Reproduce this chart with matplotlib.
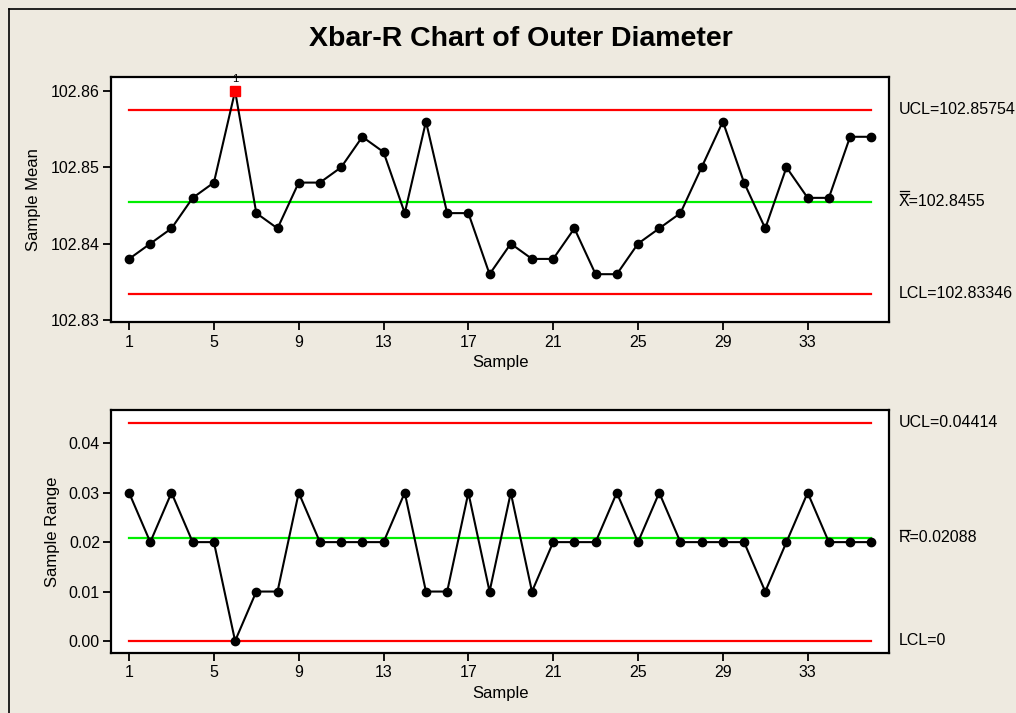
import matplotlib
matplotlib.use("Agg")
import matplotlib.pyplot as plt
from matplotlib.lines import Line2D
import numpy as np

# Subgroup statistics for 36 samples of outer diameter
samples = list(range(1, 37))
sample_means = [102.838, 102.840, 102.842, 102.846, 102.848, 102.860, 102.844, 102.842,
                102.848, 102.848, 102.850, 102.854, 102.852, 102.844, 102.856, 102.844,
                102.844, 102.836, 102.840, 102.838, 102.838, 102.842, 102.836, 102.836,
                102.840, 102.842, 102.844, 102.850, 102.856, 102.848, 102.842, 102.850,
                102.846, 102.846, 102.854, 102.854]
sample_ranges = [0.03, 0.02, 0.03, 0.02, 0.02, 0.00, 0.01, 0.01, 0.03, 0.02, 0.02, 0.02,
                 0.02, 0.03, 0.01, 0.01, 0.03, 0.01, 0.03, 0.01, 0.02, 0.02, 0.02, 0.03,
                 0.02, 0.03, 0.02, 0.02, 0.02, 0.02, 0.01, 0.02, 0.03, 0.02, 0.02, 0.02]

xbar_ucl, xbar_center, xbar_lcl = 102.85754, 102.8455, 102.83346
r_ucl, r_center, r_lcl = 0.04414, 0.02088, 0.0

x_ticks = [1, 5, 9, 13, 17, 21, 25, 29, 33]
mean_ticks = [102.83, 102.84, 102.85, 102.86]
range_ticks = [0.00, 0.01, 0.02, 0.03, 0.04]

# samples flagged by test 1 (beyond the control limits)
flagged = [6]

plt.rcParams["font.family"] = ["Liberation Sans", "DejaVu Sans"]

BG = "#EEEAE0"
RED = "#FF0000"
GREEN = "#00EE00"

fig = plt.figure(figsize=(10.16, 7.13), dpi=100, facecolor=BG)

ax1 = fig.add_axes([0.1093, 0.5480, 0.7660, 0.3444])
ax2 = fig.add_axes([0.1093, 0.0846, 0.7660, 0.3404])


def style_axes(ax, yticks, ylim, ylabel, ypad, xpad):
    ax.set_facecolor("white")
    ax.set_xlim(0.15, 36.85)
    ax.set_ylim(*ylim)
    ax.set_xticks(x_ticks)
    ax.set_yticks(yticks)
    ax.set_yticklabels([f"{t:.2f}" for t in yticks])
    for s in ax.spines.values():
        s.set_linewidth(1.6)
        s.set_color("black")
    ax.tick_params(axis="both", direction="out", length=6, width=1.3,
                   labelsize=11.5, colors="black", pad=2)
    ax.tick_params(axis="x", pad=3)
    ax.set_xlabel("Sample", fontsize=12, labelpad=xpad)
    ax.set_ylabel(ylabel, fontsize=12, labelpad=ypad)


style_axes(ax1, mean_ticks, (102.8297, 102.86187), "Sample Mean", 7, 4)
style_axes(ax2, range_ticks, (-0.00237, 0.04674), "Sample Range", 6, 4)

# Control limits and centre lines
for ax, lines in ((ax1, [(xbar_ucl, RED), (xbar_center, GREEN), (xbar_lcl, RED)]),
                  (ax2, [(r_ucl, RED), (r_center, GREEN), (r_lcl, RED)])):
    for val, col in lines:
        ax.plot([samples[0], samples[-1]], [val, val], color=col, lw=1.6, zorder=2)

# Xbar chart
ax1.plot(samples, sample_means, color="black", lw=1.5, marker="o", ms=6,
         mfc="black", mec="black", zorder=3)
for s in flagged:
    i = samples.index(s)
    ax1.plot([s], [sample_means[i]], marker="s", ms=6.5, color=RED, mec=RED,
             ls="none", zorder=4)
    ax1.annotate("1", xy=(s, sample_means[i]), xytext=(0, 5),
                 textcoords="offset points", ha="center", va="bottom",
                 fontsize=8, annotation_clip=False, zorder=5)

# R chart
ax2.plot(samples, sample_ranges, color="black", lw=1.5, marker="o", ms=6,
         mfc="black", mec="black", zorder=3)

# Limit labels on the right
lab_x = 1.0125
LAB_FS = 11.5


def limit_label(ax, text, yval):
    return ax.annotate(text, xy=(lab_x, yval), xycoords=("axes fraction", "data"),
                       ha="left", va="center", fontsize=LAB_FS, annotation_clip=False)


limit_label(ax1, f"UCL={xbar_ucl}", xbar_ucl)
limit_label(ax1, f"X={xbar_center}", xbar_center)
limit_label(ax1, f"LCL={xbar_lcl}", xbar_lcl)

limit_label(ax2, f"UCL={r_ucl}", r_ucl)
limit_label(ax2, f"R={r_center}", r_center)
limit_label(ax2, "LCL=0", r_lcl)

fig.suptitle("Xbar-R Chart of Outer Diameter", x=0.513, y=0.963, fontsize=20.5,
             fontweight="bold")

# Overbars above the leading letter of the centre-line labels
fig.canvas.draw()
renderer = fig.canvas.get_renderer()


def add_overbars(ax, letter, yval, count):
    probe = ax.annotate(letter, xy=(lab_x, yval), xycoords=("axes fraction", "data"),
                        ha="left", va="center", fontsize=LAB_FS, annotation_clip=False)
    fig.canvas.draw()
    bb = probe.get_window_extent(renderer)
    probe.remove()
    cap_top = bb.y0 + (bb.y1 - bb.y0) * 0.80
    inv = fig.transFigure.inverted()
    for k in range(count):
        yb = cap_top + 3 + 3 * k
        p0 = inv.transform((bb.x0 + 0.5, yb))
        p1 = inv.transform((bb.x1 - 0.5, yb))
        fig.add_artist(Line2D([p0[0], p1[0]], [p0[1], p1[1]], color="black",
                              lw=0.9, transform=fig.transFigure))


add_overbars(ax1, "X", xbar_center, 2)
add_overbars(ax2, "R", r_center, 1)

# Outer frame edges (top and left)
fx0, fy0 = 9 / 1016, 1 - 9 / 713
fig.add_artist(Line2D([fx0, fx0], [0, fy0], color="black", lw=1.2,
                      transform=fig.transFigure))
fig.add_artist(Line2D([fx0, 1], [fy0, fy0], color="black", lw=1.2,
                      transform=fig.transFigure))

fig.savefig("out.png", dpi=100, facecolor=BG)
